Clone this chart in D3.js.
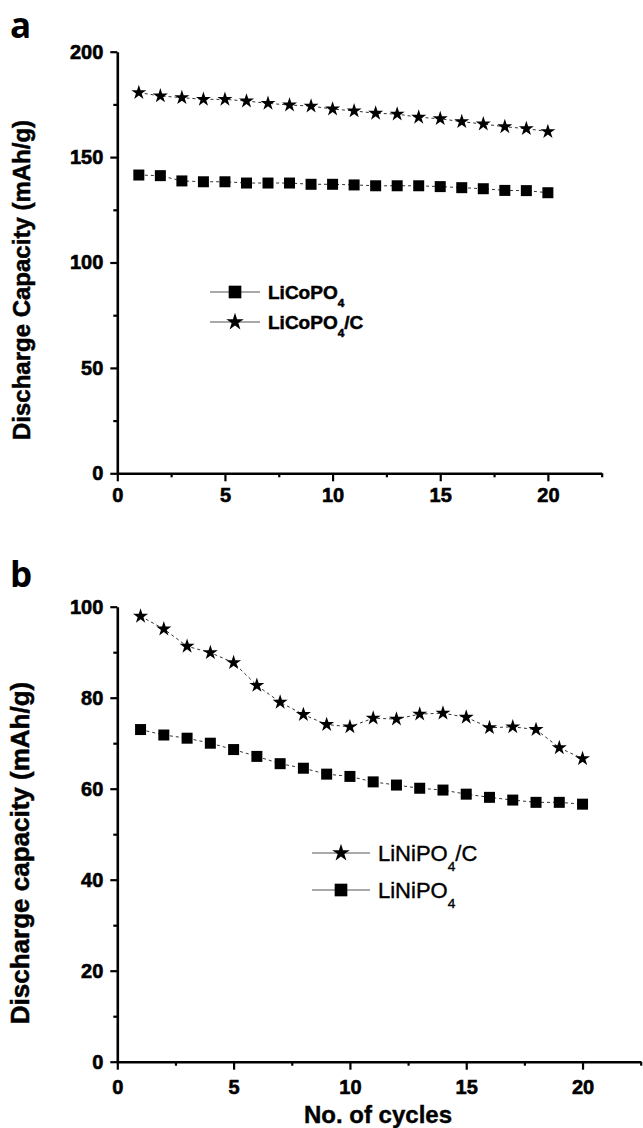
<!DOCTYPE html>
<html>
<head>
<meta charset="utf-8">
<script src="https://cdn.jsdelivr.net/npm/d3@7"></script>
<style>
  body { margin: 0; background: #fff; }
  svg { display: block; }
  text { font-family: "Liberation Sans", Arial, sans-serif; }
</style>
</head>
<body>
<svg id="chart" width="643" height="1128"></svg>
<script>
// cycle numbers shared by both panels
const cycles = [1, 2, 3, 4, 5, 6, 7, 8, 9, 10, 11, 12, 13, 14, 15, 16, 17, 18, 19, 20];

// panel a, discharge capacity (mAh/g)
const licopo4 = [141.5, 141.2, 138.7, 138.3, 138.3, 137.7, 137.7, 137.7, 137.1, 137.1,
  136.8, 136.4, 136.4, 136.4, 136.0, 135.5, 135.0, 134.2, 134.1, 133.1];
const licopo4C = [180.6, 179.0, 178.2, 177.4, 177.4, 176.6, 175.5, 174.7, 174.2, 172.8,
  171.9, 170.8, 170.4, 168.9, 168.2, 166.8, 165.7, 164.4, 163.5, 162.1];

// panel b, discharge capacity (mAh/g)
const linipo4C = [97.9, 95.1, 91.3, 89.9, 87.7, 82.7, 79.0, 76.3, 74.1, 73.6,
  75.5, 75.3, 76.4, 76.6, 75.7, 73.4, 73.6, 73.0, 69.0, 66.6];
const linipo4 = [73.0, 71.8, 71.1, 70.0, 68.6, 67.1, 65.5, 64.5, 63.2, 62.7,
  61.5, 60.8, 60.1, 59.7, 58.8, 58.1, 57.5, 57.0, 57.0, 56.6];

// ticks
const xTicks = [0, 5, 10, 15, 20];
const xMinor = [2.5, 7.5, 12.5, 17.5, 22.5];
const yTicksA = [0, 50, 100, 150, 200];
const yMinorA = [25, 75, 125, 175];
const yTicksB = [0, 20, 40, 60, 80, 100];
const yMinorB = [10, 30, 50, 70, 90];

const svg = d3.select("#chart");

const squareSym = d3.symbol(d3.symbolSquare, 121);
const starSym = d3.symbol(d3.symbolStar, 70);
// legend keys are drawn a bit bigger
const squareKey = d3.symbol(d3.symbolSquare, 160);
const starKey = d3.symbol(d3.symbolStar, 95);

// draws one panel: axes, series, legend
function drawPanel(p) {
  const x = d3.scaleLinear().domain([0, 22.5]).range([117.3, p.right]);
  const y = d3.scaleLinear().domain(p.yDomain).range([p.bottom, p.top]);
  const g = svg.append("g");

  // minor ticks first
  g.append("g")
    .attr("transform", "translate(0," + p.bottom + ")")
    .call(d3.axisBottom(x).tickValues(xMinor).tickSize(4).tickFormat(""))
    .call(s => s.select(".domain").remove());
  g.append("g")
    .attr("transform", "translate(117.3,0)")
    .call(d3.axisLeft(y).tickValues(p.yMinor).tickSize(4).tickFormat(""))
    .call(s => s.select(".domain").remove());

  const xAxis = g.append("g")
    .attr("transform", "translate(0," + p.bottom + ")")
    .call(d3.axisBottom(x).tickValues(xTicks).tickSize(8).tickSizeOuter(0).tickPadding(p.xPad));
  const yAxis = g.append("g")
    .attr("transform", "translate(117.3,0)")
    .call(d3.axisLeft(y).tickValues(p.yTicks).tickSize(7).tickSizeOuter(0).tickPadding(7));

  g.selectAll(".tick line").attr("stroke", "#000").attr("stroke-width", 2.2);
  [xAxis, yAxis].forEach(a => {
    a.select(".domain").attr("stroke", "#000").attr("stroke-width", 2.6);
    a.selectAll("text")
      .attr("fill", "#000")
      .attr("stroke", "#000")
      .attr("stroke-width", 0.6)
      .style("font-size", "20px")
      .style("font-weight", "bold");
  });

  // series: dashed connector then markers
  const line = d3.line().x((d, i) => x(cycles[i])).y(d => y(d));
  p.series.forEach(s => {
    g.append("path")
      .attr("d", line(s.values))
      .attr("fill", "none")
      .attr("stroke", "#333")
      .attr("stroke-width", 1)
      .attr("stroke-dasharray", "3,3");
    g.selectAll(null)
      .data(s.values)
      .join("path")
      .attr("transform", (d, i) => "translate(" + x(cycles[i]) + "," + y(d) + ")")
      .attr("d", s.symbol === "star" ? starSym : squareSym)
      .attr("fill", "#000");
  });

  // legend
  p.series.forEach((s, k) => {
    const ly = p.legend.y + k * p.legend.gap;
    g.append("line")
      .attr("x1", p.legend.x1).attr("x2", p.legend.x2)
      .attr("y1", ly).attr("y2", ly)
      .attr("stroke", "#555").attr("stroke-width", 1.2);
    g.append("path")
      .attr("transform", "translate(" + (p.legend.x1 + p.legend.x2) / 2 + "," + ly + ")")
      .attr("d", s.symbol === "star" ? starKey : squareKey)
      .attr("fill", "#000");
    const t = g.append("text")
      .attr("x", p.legend.tx)
      .attr("y", ly + p.legend.fs * 0.36)
      .attr("stroke", "#000")
      .attr("stroke-width", p.legend.stroke)
      .style("font-size", p.legend.fs + "px")
      .style("font-weight", p.legend.weight);
    t.append("tspan").text(s.name);
    t.append("tspan").attr("dy", p.legend.fs * 0.45).style("font-size", (p.legend.fs * 0.62) + "px").text("4");
    if (s.suffix) t.append("tspan").attr("dy", -p.legend.fs * 0.45).text(s.suffix);
  });

  // y title
  svg.append("text")
    .attr("transform", "translate(" + p.titleX + "," + p.titleY + ") rotate(-90)")
    .attr("text-anchor", "middle")
    .attr("stroke", "#000")
    .attr("stroke-width", 0.5)
    .style("font-size", p.titleSize + "px")
    .style("font-weight", "bold")
    .text(p.yTitle);

  // panel letter
  svg.append("text")
    .attr("x", 10).attr("y", p.letterY)
    .style("font-family", "'Open Sans', sans-serif")
    .style("font-size", "35px")
    .style("font-weight", "bold")
    .text(p.letter);
}

drawPanel({
  letter: "a", letterY: 38,
  top: 51.7, bottom: 473.3, right: 601.7, xPad: 7,
  yDomain: [0, 200], yTicks: yTicksA, yMinor: yMinorA,
  yTitle: "Discharge Capacity (mAh/g)", titleX: 30, titleY: 280, titleSize: 24,
  series: [
    { name: "LiCoPO", suffix: "", values: licopo4, symbol: "square" },
    { name: "LiCoPO", suffix: "/C", values: licopo4C, symbol: "star" }
  ],
  legend: { x1: 210, x2: 260, tx: 268, y: 292, gap: 30, fs: 19, weight: "bold", stroke: 0.5 }
});

drawPanel({
  letter: "b", letterY: 587,
  top: 606.7, bottom: 1061.7, right: 640.7, xPad: 10,
  yDomain: [0, 100], yTicks: yTicksB, yMinor: yMinorB,
  yTitle: "Discharge capacity (mAh/g)", titleX: 29, titleY: 853, titleSize: 26,
  series: [
    { name: "LiNiPO", suffix: "/C", values: linipo4C, symbol: "star" },
    { name: "LiNiPO", suffix: "", values: linipo4, symbol: "square" }
  ],
  legend: { x1: 312, x2: 370, tx: 378, y: 853, gap: 37, fs: 22, weight: "normal", stroke: 0.4 }
});

// x title of the lower panel
svg.append("text")
  .attr("x", 378).attr("y", 1123)
  .attr("text-anchor", "middle")
  .attr("stroke", "#000")
  .attr("stroke-width", 0.4)
  .style("font-size", "24px")
  .style("font-weight", "bold")
  .text("No. of cycles");
</script>
</body>
</html>
